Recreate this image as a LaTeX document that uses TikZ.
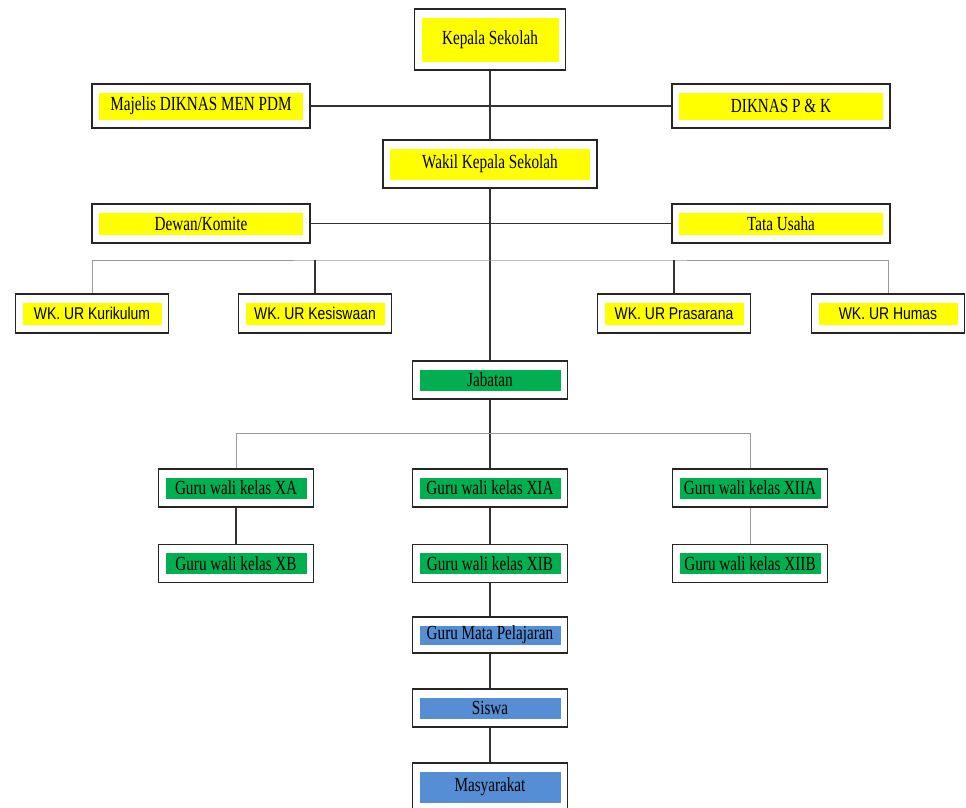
\documentclass[tikz,border=0pt]{standalone}
\usepackage{fontspec}
\setmainfont{Liberation Serif}[FakeStretch=0.76]
\newfontfamily\wkfont{Liberation Sans}[FakeStretch=0.82]
\usepackage{tikz}
\definecolor{kuning}{RGB}{255,255,0}
\definecolor{hijau}{RGB}{0,176,80}
\definecolor{biru}{RGB}{85,142,213}
\tikzset{barfill/.style={path picture={
  \fill[#1] ([xshift=7pt,yshift=-8.5pt]path picture bounding box.north west)
    rectangle ([xshift=-7pt,yshift=8.5pt]path picture bounding box.south east);}}}
\tikzstyle{box}=[draw=black!85, line width=1.3pt, fill=white, inner sep=0pt,
  font=\fontsize{20}{22}\selectfont]
\tikzstyle{yellowbox}=[box, barfill=kuning]
\tikzstyle{greenbox}=[box, barfill=hijau, minimum width=155pt, minimum height=38pt]
\tikzstyle{bluebox}=[box, barfill=biru, minimum width=155pt, minimum height=38pt]
\tikzstyle{side}=[minimum width=218pt, minimum height=44pt]
\tikzstyle{wkbox}=[yellowbox, minimum width=153pt, minimum height=39pt,
  font=\wkfont\fontsize{17}{19}\selectfont]
\tikzstyle{trunk}=[draw=black!80, line width=1.3pt]
\tikzstyle{branch}=[draw=black!40, line width=1pt]

\begin{document}
\begin{tikzpicture}[x=1pt, y=-1pt]
    \useasboundingbox (0,0) rectangle (966,807);

    % head and the boxes beside it
    \node[yellowbox, minimum width=151pt, minimum height=61pt] (kepala) at (490,39.5) {Kepala Sekolah};
    \node[yellowbox, side] (majelis) at (201,106) {Majelis DIKNAS MEN PDM};
    \node[yellowbox, side] (diknas) at (781,106) {DIKNAS P \& K};
    \node[yellowbox, minimum width=214pt, minimum height=48pt] (wakil) at (490,164) {Wakil Kepala Sekolah};
    \node[yellowbox, side, minimum height=39pt] (dewan) at (201,223.5) {Dewan/Komite};
    \node[yellowbox, side, minimum height=39pt] (tatausaha) at (781,223.5) {Tata Usaha};

    % the four WK boxes
    \node[wkbox] (kurikulum) at (92,313.5) {WK. UR Kurikulum};
    \node[wkbox] (kesiswaan) at (315,313.5) {WK. UR Kesiswaan};
    \node[wkbox] (prasarana) at (674,313.5) {WK. UR Prasarana};
    \node[wkbox] (humas) at (888,313.5) {WK. UR Humas};
    \coordinate (wkbus) at (490,260);

    % green boxes
    \node[greenbox] (jabatan) at (490,380) {Jabatan};
    \coordinate (jbus) at (490,433);
    \node[greenbox] (xa) at (236,488) {Guru wali kelas XA};
    \node[greenbox] (xb) at (236,563.5) {Guru wali kelas XB};
    \node[greenbox] (xia) at (490,488) {Guru wali kelas XIA};
    \node[greenbox] (xib) at (490,563.5) {Guru wali kelas XIB};
    \node[greenbox] (xiia) at (750,488) {Guru wali kelas XIIA};
    \node[greenbox] (xiib) at (750,563.5) {Guru wali kelas XIIB};

    % blue boxes at the bottom
    \node[bluebox, minimum height=36pt] (mapel) at (490,635) {Guru Mata Pelajaran};
    \node[bluebox] (siswa) at (490,708) {Siswa};
    \node[bluebox, minimum height=48pt] (masyarakat) at (490,787) {Masyarakat};

    % main line down the middle
    \draw[trunk] (kepala) -- (wakil);
    \draw[trunk] (wakil) -- (jabatan);
    \draw[trunk] (jabatan) -- (xia);
    \draw[trunk] (xia) -- (xib);
    \draw[trunk] (xib) -- (mapel);
    \draw[trunk] (mapel) -- (siswa);
    \draw[trunk] (siswa) -- (masyarakat);

    % side links
    \draw[trunk] (majelis) -- (diknas);
    \draw[trunk] (dewan) -- (tatausaha);

    % bus to the WK boxes
    \draw[branch] (kurikulum.north) |- (wkbus) -| (humas.north);
    \foreach \n in {kesiswaan,prasarana}
    \draw[trunk] (\n.north) -- (\n.north |- wkbus);

    % bus to the class teachers
    \draw[branch] (xa.north) |- (jbus) -| (xiia.north);
    \draw[trunk] (xa) -- (xb);
    \draw[branch] (xiia) -- (xiib);

\end{tikzpicture}
\end{document}
